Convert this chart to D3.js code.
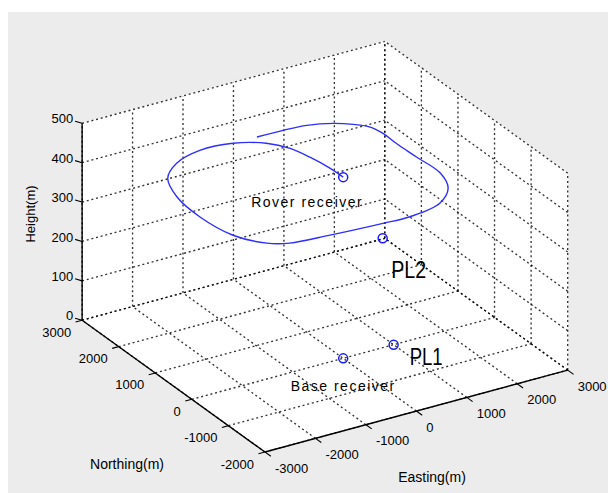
<!DOCTYPE html>
<html>
<head>
<meta charset="utf-8">
<script src="https://cdn.jsdelivr.net/npm/d3@7"></script>
<style>
  html, body { margin: 0; padding: 0; background: #fff; }
  svg text { font-family: "Liberation Sans", Arial, Helvetica, sans-serif; fill: #000; }
</style>
</head>
<body>
<svg id="chart" width="608" height="493"></svg>
<script>
// Axis ticks (metres)
const eastingTicks = [-3000, -2000, -1000, 0, 1000, 2000, 3000];
const northingTicks = [-2000, -1000, 0, 1000, 2000, 3000];
const heightTicks = [0, 100, 200, 300, 400, 500];

// Rover receiver trajectory (local ENU, metres)
const roverEasting = [0, -10, -80, -190, -430, -910, -1530, -2120, -2550, -2790, -2860, -2750,
  -2420, -2090, -1350, -350, 170, 870, 1290, 1480, 1460, 1440, 1450, 1390, 1200, 930, 510, 70, -440];
const roverNorthing = [0, 350, 800, 1190, 1510, 1760, 1810, 1630, 1280, 700, -30, -780,
  -1250, -1420, -1500, -1570, -1590, -1440, -1090, -620, 10, 530, 910, 1180, 1380, 1560, 1700, 1740, 1750];
const roverHeight = [460, 460, 460, 460, 460, 460, 460, 460, 460, 460, 460, 460,
  460, 460, 460, 460, 460, 460, 460, 460, 460, 460, 460, 460, 460, 460, 460, 460, 460];

// Receivers and pseudolites
const stationNames = ["Rover receiver", "PL2", "PL1", "Base receiver"];
const stationEasting = [0, 1000, 1000, 0];
const stationNorthing = [0, 300, 0, 0];
const stationHeight = [460, 250, 0, 0];

// ---- 3D view (orthographic, azimuth / elevation) ----
const az = -31.5 * Math.PI / 180;
const el = 26.2 * Math.PI / 180;
const boxSize = [355, 350, 219.5];
const origin = [265, 452];

const ex = d3.scaleLinear().domain([-3000, 3000]).range([0, boxSize[0]]);
const ny = d3.scaleLinear().domain([-2000, 3000]).range([0, boxSize[1]]);
const hz = d3.scaleLinear().domain([0, 500]).range([0, boxSize[2]]);

function project(e, n, h) {
  const u = ex(e), v = ny(n), w = hz(h);
  const sx = u * Math.cos(az) + v * Math.sin(az);
  const up = -u * Math.sin(az) * Math.sin(el) + v * Math.cos(az) * Math.sin(el) + w * Math.cos(el);
  return [origin[0] + sx, origin[1] - up];
}

const [eMin, eMax] = ex.domain();
const [nMin, nMax] = ny.domain();
const [hMin, hMax] = hz.domain();

const svg = d3.select("#chart");
const seg = d3.line();

// figure background
svg.append("rect").attr("x", 8).attr("y", 12).attr("width", 600).attr("height", 481).attr("fill", "#ececec");

// back panes (floor + two walls)
const panes = [
  [[eMin, nMin, hMin], [eMax, nMin, hMin], [eMax, nMax, hMin], [eMin, nMax, hMin]],
  [[eMin, nMax, hMin], [eMax, nMax, hMin], [eMax, nMax, hMax], [eMin, nMax, hMax]],
  [[eMax, nMin, hMin], [eMax, nMax, hMin], [eMax, nMax, hMax], [eMax, nMin, hMax]]
];
svg.append("g").selectAll("path").data(panes).join("path")
  .attr("d", p => seg(p.map(q => project(...q))) + "Z")
  .attr("fill", "#fff").attr("stroke", "#fff").attr("stroke-width", 1);

// grid lines
const grid = [];
eastingTicks.forEach(e => {
  grid.push([[e, nMin, hMin], [e, nMax, hMin]]);
  grid.push([[e, nMax, hMin], [e, nMax, hMax]]);
});
northingTicks.forEach(n => {
  grid.push([[eMin, n, hMin], [eMax, n, hMin]]);
  grid.push([[eMax, n, hMin], [eMax, n, hMax]]);
});
heightTicks.forEach(h => {
  grid.push([[eMin, nMax, h], [eMax, nMax, h]]);
  grid.push([[eMax, nMin, h], [eMax, nMax, h]]);
});
svg.append("g").selectAll("path").data(grid).join("path")
  .attr("d", s => seg(s.map(q => project(...q))))
  .attr("fill", "none").attr("stroke", "#000").attr("stroke-width", 1.35)
  .attr("stroke-dasharray", "2,2.8").attr("opacity", 0.8);

// solid axis lines
const axes = [
  [[eMin, nMin, hMin], [eMax, nMin, hMin]],
  [[eMin, nMin, hMin], [eMin, nMax, hMin]],
  [[eMin, nMax, hMin], [eMin, nMax, hMax]]
];
svg.append("g").selectAll("path").data(axes).join("path")
  .attr("d", s => seg(s.map(q => project(...q))))
  .attr("fill", "none").attr("stroke", "#000").attr("stroke-width", 1.4);

// ticks
const ticks = [];
eastingTicks.forEach(e => ticks.push([[e, nMin, hMin], [e, nMin - 160, hMin]]));
northingTicks.forEach(n => ticks.push([[eMin, n, hMin], [eMin - 130, n, hMin]]));
heightTicks.forEach(h => ticks.push([[eMin, nMax, h], [eMin - 60, nMax + 110, h]]));
svg.append("g").selectAll("path").data(ticks).join("path")
  .attr("d", s => seg(s.map(q => project(...q))))
  .attr("fill", "none").attr("stroke", "#000").attr("stroke-width", 1.1);

// tick labels
const tickFont = 13;
const labels = svg.append("g").attr("font-size", tickFont);
labels.selectAll(".hl").data(heightTicks).join("text").attr("class", "hl")
  .attr("x", h => project(eMin, nMax, h)[0] - 9)
  .attr("y", h => project(eMin, nMax, h)[1] - 4.5)
  .attr("dy", "0.35em").attr("text-anchor", "end").text(d => d);
labels.selectAll(".nl").data(northingTicks).join("text").attr("class", "nl")
  .attr("x", n => project(eMin, n, hMin)[0] - 11)
  .attr("y", n => project(eMin, n, hMin)[1] + 12)
  .attr("dy", "0.35em").attr("text-anchor", "end").text(d => d);
labels.selectAll(".el").data(eastingTicks).join("text").attr("class", "el")
  .attr("x", e => project(e, nMin, hMin)[0] + 10)
  .attr("y", e => project(e, nMin, hMin)[1] + 16)
  .attr("dy", "0.35em").attr("text-anchor", "start").text(d => d);

// axis titles
svg.append("text").attr("transform", "translate(30,214) rotate(-90)")
  .attr("text-anchor", "middle").attr("dy", "0.35em").attr("font-size", 13).text("Height(m)");
svg.append("text").attr("x", 127).attr("y", 464).attr("dy", "0.35em")
  .attr("text-anchor", "middle").attr("font-size", 14).text("Northing(m)");
svg.append("text").attr("x", 432).attr("y", 477).attr("dy", "0.35em")
  .attr("text-anchor", "middle").attr("font-size", 14).text("Easting(m)");

// rover trajectory
const track = roverEasting.map((e, i) => project(e, roverNorthing[i], roverHeight[i]));
svg.append("path")
  .attr("d", d3.line().curve(d3.curveCatmullRom.alpha(0.5))(track))
  .attr("fill", "none").attr("stroke", "#2e2eff").attr("stroke-width", 1.4);

// station markers
const stationPts = stationNames.map((s, i) => project(stationEasting[i], stationNorthing[i], stationHeight[i]));
svg.append("g").selectAll("circle").data(stationPts).join("circle")
  .attr("cx", p => p[0]).attr("cy", p => p[1]).attr("r", 4.5)
  .attr("fill", "none").attr("stroke", "#1a1aff").attr("stroke-width", 1.5);

// station annotations
const annot = [
  { dx: -36, dy: 24.5, anchor: "middle", size: 14, spacing: 1.5 },
  { dx: 8.5, dy: 31, anchor: "start", size: 24, len: 35 },
  { dx: 16, dy: 11.5, anchor: "start", size: 24, len: 33 },
  { dx: 0, dy: 28, anchor: "middle", size: 14, spacing: 1.5 }
];
stationNames.forEach((name, i) => {
  const a = annot[i];
  const t = svg.append("text")
    .attr("x", stationPts[i][0] + a.dx).attr("y", stationPts[i][1] + a.dy)
    .attr("dy", "0.35em").attr("text-anchor", a.anchor).attr("font-size", a.size)
    .text(name);
  if (a.spacing) t.attr("letter-spacing", a.spacing);
  if (a.len) t.attr("textLength", a.len).attr("lengthAdjust", "spacingAndGlyphs");
});
</script>
</body>
</html>
